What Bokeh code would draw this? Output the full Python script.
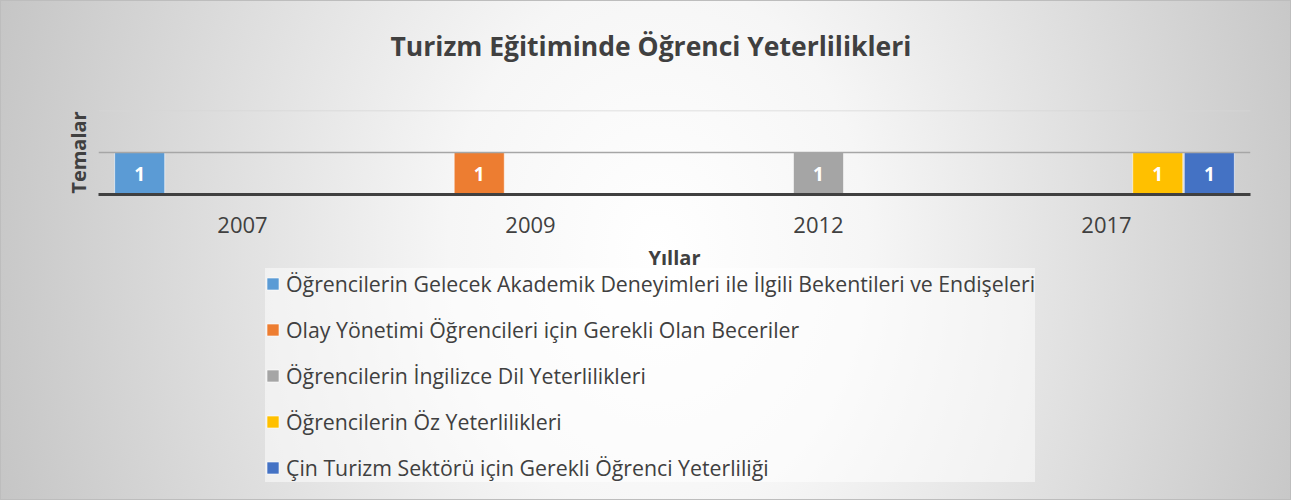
from bokeh.plotting import figure
from bokeh.layouts import column
from bokeh.models import FactorRange, Range1d, Legend, LegendItem, Span, FixedTicker, ColumnDataSource
from bokeh.transform import dodge
from bokeh.embed import file_html
from bokeh.resources import INLINE
from bokeh.core.properties import value

# ---- data ----
years = ["2007", "2009", "2012", "2017"]
series_names = [
    "Öğrencilerin Gelecek Akademik Deneyimleri ile İlgili Bekentileri ve Endişeleri",
    "Olay Yönetimi Öğrencileri için Gerekli Olan Beceriler",
    "Öğrencilerin İngilizce Dil Yeterlilikleri",
    "Öğrencilerin Öz Yeterlilikleri",
    "Çin Turizm Sektörü için Gerekli Öğrenci Yeterliliği",
]
s1 = [1, 0, 0, 0]
s2 = [0, 1, 0, 0]
s3 = [0, 0, 1, 0]
s4 = [0, 0, 0, 1]
s5 = [0, 0, 0, 1]
series_values = [s1, s2, s3, s4, s5]
y_gridlines = [1, 2]
title_text = "Turizm Eğitiminde Öğrenci Yeterlilikleri"
x_title = "Yıllar"
y_title = "Temalar"

# ---- styles ----
colors = ["#5B9BD5", "#ED7D31", "#A5A5A5", "#FFC000", "#4472C4"]
offsets = [-0.357, -0.178, 0.0, 0.178, 0.357]
bar_width = 0.174
FONT = "Open Sans"
TXT = "#404040"
TOP_H = 275
OVERLAP = 12
W = 1291
H = 500

p = figure(
    x_range=FactorRange(factors=years, range_padding=0),
    y_range=Range1d(0, 2),
    width=W, height=TOP_H,
    output_backend="svg", toolbar_location=None,
    min_border_left=98, min_border_right=41,
    min_border_top=110, min_border_bottom=TOP_H - 194,
)
p.border_fill_color = None
p.background_fill_color = None
p.outline_line_color = None

p.title.text = title_text
p.title.align = "left"
p.title.offset = 292
p.title.vertical_align = "bottom"
p.title.padding = dict(left=0, right=0, top=0, bottom=40)
p.title.text_font = FONT
p.title.text_font_size = "26.5px"
p.title.text_font_style = "bold"
p.title.text_color = TXT
p.title.standoff = 14

p.xgrid.grid_line_color = None
p.ygrid.grid_line_color = None

grid_colors = {1: "#a6a6a6", 2: "#d6d6d6"}
for g in y_gridlines:
    p.add_layout(Span(location=g, dimension="width", line_color=grid_colors.get(g, "#d9d9d9"), line_width=1.3))

p.xaxis.axis_line_width = 3
p.xaxis.axis_line_color = TXT
p.xaxis.major_tick_line_color = None
p.xaxis.minor_tick_line_color = None
p.xaxis.major_label_text_font = FONT
p.xaxis.major_label_text_font_size = "22px"
p.xaxis.major_label_text_color = TXT
p.xaxis.major_label_standoff = 16
p.xaxis.axis_label = x_title
p.xaxis.axis_label_text_font = FONT
p.xaxis.axis_label_text_font_size = "20px"
p.xaxis.axis_label_text_font_style = "bold"
p.xaxis.axis_label_text_color = TXT
p.xaxis.axis_label_standoff = 8

p.yaxis.ticker = FixedTicker(ticks=[])
p.yaxis.axis_line_color = None
p.yaxis.major_tick_line_color = None
p.yaxis.minor_tick_line_color = None
p.yaxis.axis_label = y_title
p.yaxis.axis_label_text_font = FONT
p.yaxis.axis_label_text_font_size = "20px"
p.yaxis.axis_label_text_font_style = "bold"
p.yaxis.axis_label_text_color = TXT
p.yaxis.axis_label_standoff = 7

# legend-only figure below the chart (shares x range; its y range hides the bars)
q = figure(width=W, height=H - TOP_H + OVERLAP, output_backend="svg", toolbar_location=None,
           x_axis_type=None, y_axis_type=None, x_range=p.x_range, y_range=Range1d(10, 11),
           min_border=0)
q.margin = (-OVERLAP, 0, 0, 0)
q.border_fill_color = None
q.background_fill_color = None
q.outline_line_color = None
q.grid.visible = False

items = []
for i, (name, vals) in enumerate(zip(series_names, series_values)):
    xs = [y for y, v in zip(years, vals) if v > 0]
    tops = [v for v in vals if v > 0]
    src = ColumnDataSource(dict(x=xs, top=tops, mid=[t / 2 for t in tops], lab=[str(t) for t in tops]))
    p.vbar(x=dodge("x", offsets[i], range=p.x_range), top="top", width=bar_width, source=src,
           fill_color=colors[i], line_color="#ffffff", line_alpha=0.6, line_width=1)
    p.text(x=dodge("x", offsets[i], range=p.x_range), y="mid", text="lab", source=src,
           text_align="center", text_baseline="middle", text_color="white",
           text_font=value(FONT), text_font_style="bold", text_font_size="19px")
    key = q.vbar(x=dodge("x", offsets[i], range=q.x_range), top="top", width=bar_width, source=src,
                 fill_color=colors[i], line_color="#ffffff", line_alpha=0.6, line_width=1)
    items.append(LegendItem(label=name, renderers=[key]))

legend = Legend(items=items, location=(167, 18), orientation="vertical",
                label_text_font=FONT, label_text_font_size="21.3px", label_text_color=TXT,
                glyph_width=15, glyph_height=15, label_standoff=6,
                label_height=30, spacing=16, padding=6, margin=0,
                background_fill_color="#ffffff", background_fill_alpha=0.5,
                border_line_color=None)
q.add_layout(legend)

layout = column(p, q, spacing=0)
layout.styles = {
    "background-image": "radial-gradient(ellipse 700px 900px at 51% 50%, #ffffff 0%, #f6f6f6 30%, #c4c4c4 100%)",
    "box-shadow": "inset 0 0 0 1px #bdbdbd",
}

open("out.html", "w").write(file_html(layout, INLINE))
